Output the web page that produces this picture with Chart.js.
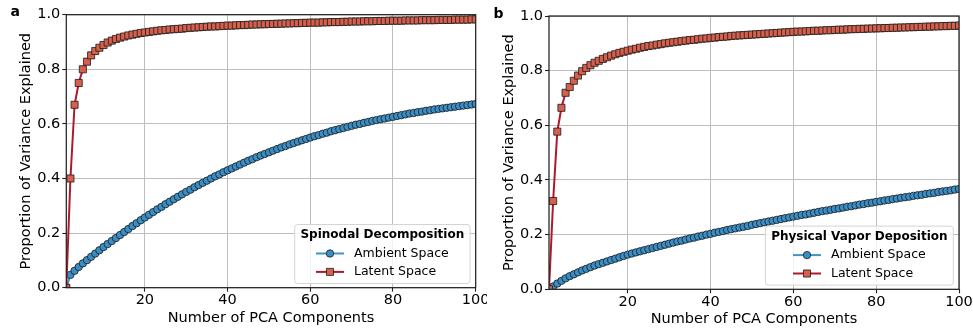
<!DOCTYPE html>
<html>
<head>
<meta charset="utf-8">
<script src="https://cdn.jsdelivr.net/npm/chart.js@4.4.1/dist/chart.umd.min.js"></script>
<style>
  html, body { margin: 0; padding: 0; background: #fff; }
  body { width: 973px; height: 332px; position: relative; overflow: hidden; }
  canvas { position: absolute; top: 0; }
  #panelA { left: 0; }
  #panelB { left: 487px; }
</style>
</head>
<body>
<canvas id="panelA" width="487" height="332"></canvas>
<canvas id="panelB" width="486" height="332"></canvas>
<script>
// number of PCA components kept (x values)
const components = Array.from({ length: 100 }, (_, i) => i + 1);

// panel a - spinodal decomposition
const spinodalAmbient = [
  0.000, 0.047, 0.062, 0.076, 0.089, 0.101, 0.113, 0.125, 0.137, 0.149,
  0.160, 0.171, 0.182, 0.193, 0.204, 0.215, 0.226, 0.236, 0.247, 0.257,
  0.267, 0.277, 0.287, 0.296, 0.306, 0.315, 0.324, 0.333, 0.342, 0.351,
  0.359, 0.368, 0.376, 0.384, 0.392, 0.400, 0.408, 0.415, 0.423, 0.430,
  0.437, 0.444, 0.451, 0.458, 0.465, 0.471, 0.478, 0.484, 0.490, 0.496,
  0.502, 0.508, 0.514, 0.519, 0.525, 0.530, 0.535, 0.540, 0.545, 0.550,
  0.555, 0.559, 0.564, 0.568, 0.573, 0.577, 0.581, 0.585, 0.589, 0.593,
  0.597, 0.600, 0.604, 0.607, 0.611, 0.614, 0.617, 0.620, 0.623, 0.626,
  0.629, 0.632, 0.635, 0.638, 0.640, 0.643, 0.645, 0.648, 0.650, 0.653,
  0.655, 0.657, 0.659, 0.661, 0.663, 0.665, 0.667, 0.669, 0.671, 0.673
];
const spinodalLatent = [
  0.000, 0.400, 0.670, 0.750, 0.800, 0.828, 0.851, 0.867, 0.879, 0.889,
  0.898, 0.905, 0.911, 0.916, 0.920, 0.924, 0.927, 0.930, 0.933, 0.935,
  0.937, 0.939, 0.941, 0.943, 0.944, 0.946, 0.947, 0.948, 0.949, 0.951,
  0.952, 0.953, 0.954, 0.955, 0.956, 0.957, 0.957, 0.958, 0.959, 0.960,
  0.960, 0.961, 0.962, 0.962, 0.963, 0.964, 0.964, 0.965, 0.965, 0.966,
  0.966, 0.967, 0.967, 0.968, 0.968, 0.969, 0.969, 0.970, 0.970, 0.971,
  0.971, 0.971, 0.972, 0.972, 0.973, 0.973, 0.973, 0.974, 0.974, 0.975,
  0.975, 0.975, 0.976, 0.976, 0.976, 0.977, 0.977, 0.977, 0.978, 0.978,
  0.978, 0.978, 0.979, 0.979, 0.979, 0.979, 0.980, 0.980, 0.980, 0.980,
  0.981, 0.981, 0.981, 0.981, 0.982, 0.982, 0.982, 0.982, 0.983, 0.983
];

// panel b - physical vapor deposition
const pvdAmbient = [
  0.000, 0.010, 0.021, 0.031, 0.040, 0.048, 0.055, 0.062, 0.069, 0.075,
  0.081, 0.087, 0.092, 0.097, 0.102, 0.107, 0.112, 0.117, 0.122, 0.127,
  0.131, 0.135, 0.139, 0.143, 0.147, 0.151, 0.155, 0.159, 0.163, 0.167,
  0.171, 0.175, 0.178, 0.182, 0.186, 0.189, 0.193, 0.196, 0.200, 0.203,
  0.207, 0.210, 0.213, 0.217, 0.220, 0.223, 0.226, 0.229, 0.232, 0.236,
  0.239, 0.242, 0.245, 0.248, 0.251, 0.254, 0.257, 0.260, 0.263, 0.266,
  0.269, 0.272, 0.274, 0.277, 0.280, 0.283, 0.286, 0.288, 0.291, 0.294,
  0.296, 0.299, 0.302, 0.304, 0.307, 0.310, 0.312, 0.315, 0.317, 0.320,
  0.322, 0.325, 0.327, 0.330, 0.332, 0.335, 0.337, 0.339, 0.342, 0.344,
  0.346, 0.349, 0.351, 0.353, 0.356, 0.358, 0.360, 0.362, 0.365, 0.367
];
const pvdLatent = [
  0.000, 0.323, 0.577, 0.664, 0.719, 0.740, 0.763, 0.782, 0.798, 0.810,
  0.820, 0.829, 0.836, 0.843, 0.849, 0.855, 0.860, 0.865, 0.869, 0.873,
  0.877, 0.880, 0.884, 0.887, 0.890, 0.892, 0.895, 0.897, 0.900, 0.902,
  0.904, 0.906, 0.908, 0.910, 0.912, 0.913, 0.915, 0.917, 0.918, 0.920,
  0.921, 0.923, 0.924, 0.925, 0.927, 0.928, 0.929, 0.930, 0.931, 0.932,
  0.933, 0.934, 0.935, 0.936, 0.937, 0.938, 0.939, 0.940, 0.941, 0.942,
  0.943, 0.943, 0.944, 0.945, 0.946, 0.946, 0.947, 0.948, 0.948, 0.949,
  0.950, 0.950, 0.951, 0.952, 0.952, 0.953, 0.953, 0.954, 0.954, 0.955,
  0.955, 0.956, 0.956, 0.957, 0.957, 0.958, 0.958, 0.959, 0.959, 0.960,
  0.960, 0.961, 0.961, 0.962, 0.962, 0.963, 0.963, 0.964, 0.964, 0.965
];

const xTicks = [20, 40, 60, 80, 100];
const yTicks = [0, 0.2, 0.4, 0.6, 0.8, 1.0];
const seriesNames = ['Ambient Space', 'Latent Space'];

const FONT = '"DejaVu Sans", sans-serif';
const AXIS_SIZE = 14.5;
const HALF_LINE = AXIS_SIZE * 1.2 / 2;
Chart.defaults.font.family = FONT;
Chart.defaults.color = '#000';

// matplotlib-like box around the axes
const framePlugin = {
  id: 'frame',
  afterDatasetsDraw(chart) {
    const { ctx, chartArea: a } = chart;
    ctx.save();
    ctx.strokeStyle = '#222';
    ctx.lineWidth = 1.25;
    ctx.strokeRect(a.left, a.top, a.right - a.left, a.bottom - a.top);
    ctx.restore();
  }
};

// legend with a bold title, sitting in the lower right corner
const panelLegend = {
  id: 'panelLegend',
  afterDraw(chart, args, opts) {
    const { ctx, chartArea: a } = chart;
    const sets = chart.data.datasets;
    ctx.save();
    ctx.font = `bold 12px ${FONT}`;
    const titleW = ctx.measureText(opts.title).width;
    ctx.font = `12.5px ${FONT}`;
    const labelW = Math.max(...sets.map(d => ctx.measureText(d.label).width));
    const rowW = 28 + 10 + labelW;
    const w = Math.max(titleW, rowW) + 11.5;
    const h = 59;
    const x = a.right - 5.7 - w;
    const y = a.bottom - 4.2 - h;

    ctx.beginPath();
    ctx.roundRect(x, y, w, h, 3);
    ctx.fillStyle = 'rgba(255,255,255,0.8)';
    ctx.fill();
    ctx.strokeStyle = '#d4d4d4';
    ctx.lineWidth = 1;
    ctx.stroke();

    const cx = x + w / 2;
    ctx.fillStyle = '#000';
    ctx.textBaseline = 'middle';
    ctx.textAlign = 'center';
    ctx.font = `bold 12px ${FONT}`;
    ctx.fillText(opts.title, cx, y + 10.7);

    const rx = cx - rowW / 2;
    sets.forEach((d, i) => {
      const ry = y + 29 + i * 18.4;
      ctx.strokeStyle = d.borderColor;
      ctx.lineWidth = d.borderWidth;
      ctx.beginPath();
      ctx.moveTo(rx, ry);
      ctx.lineTo(rx + 28, ry);
      ctx.stroke();
      ctx.fillStyle = d.pointBackgroundColor;
      ctx.strokeStyle = d.pointBorderColor;
      ctx.lineWidth = d.pointBorderWidth;
      Chart.helpers.drawPoint(ctx, {
        pointStyle: d.pointStyle, radius: d.pointRadius, borderWidth: d.pointBorderWidth, rotation: 0
      }, rx + 14, ry);
      ctx.fillStyle = '#000';
      ctx.textAlign = 'left';
      ctx.font = `12.5px ${FONT}`;
      ctx.fillText(d.label, rx + 38, ry);
    });
    ctx.restore();
  }
};

const panelLetter = {
  id: 'panelLetter',
  afterDraw(chart, args, opts) {
    const { ctx } = chart;
    ctx.save();
    ctx.font = `bold 14px ${FONT}`;
    ctx.fillStyle = '#000';
    ctx.textBaseline = 'alphabetic';
    ctx.fillText(opts.text, opts.x, opts.y);
    ctx.restore();
  }
};

function drawPanel(id, letter, legendTitle, ambient, latent, geo) {
  const gridStyle = { color: '#bdbdbd', lineWidth: 1, drawTicks: true, tickLength: 4, tickColor: '#222', tickWidth: 1.1 };
  return new Chart(document.getElementById(id), {
    type: 'line',
    data: {
      datasets: [
        {
          label: seriesNames[0],
          data: components.map((c, i) => ({ x: c, y: ambient[i] })),
          borderColor: '#4393c3',
          backgroundColor: '#4393c3',
          borderWidth: 2,
          pointStyle: 'circle',
          pointRadius: 3.7,
          pointBackgroundColor: '#3b8ec5',
          pointBorderColor: '#1a1a1a',
          pointBorderWidth: 0.8,
          order: 1,
          clip: 0
        },
        {
          label: seriesNames[1],
          data: components.map((c, i) => ({ x: c, y: latent[i] })),
          borderColor: '#b2182b',
          backgroundColor: '#d6604d',
          borderWidth: 2,
          pointStyle: 'rect',
          pointRadius: 5,
          pointBackgroundColor: '#d6604d',
          pointBorderColor: '#1a1a1a',
          pointBorderWidth: 0.8,
          order: 0,
          clip: 0
        }
      ]
    },
    options: {
      responsive: false,
      animation: false,
      devicePixelRatio: 1,
      layout: { padding: { left: 0, top: geo.top, right: geo.width - geo.right, bottom: 0 } },
      plugins: {
        legend: { display: false },
        tooltip: { enabled: false },
        panelLegend: { title: legendTitle },
        panelLetter: { text: letter, x: geo.letterX, y: geo.letterY }
      },
      scales: {
        x: {
          type: 'linear',
          min: 1,
          max: 100,
          afterBuildTicks: s => { s.ticks = xTicks.map(v => ({ value: v })); },
          afterFit: s => { s.height = 332 - geo.bottom; s.paddingLeft = 0; s.paddingRight = 0; },
          ticks: { font: { size: AXIS_SIZE }, color: '#000', padding: 0, maxRotation: 0, callback: v => v },
          grid: gridStyle,
          border: { display: false },
          title: {
            display: true, text: 'Number of PCA Components', color: '#000',
            font: { size: AXIS_SIZE }, padding: { top: 0, bottom: geo.xTitleOffset - HALF_LINE }
          }
        },
        y: {
          type: 'linear',
          min: 0,
          max: 1,
          afterBuildTicks: s => { s.ticks = yTicks.map(v => ({ value: v })); },
          afterFit: s => { s.width = geo.left; s.paddingTop = 0; s.paddingBottom = 0; },
          ticks: { font: { size: AXIS_SIZE }, color: '#000', padding: 2, callback: v => v.toFixed(1) },
          grid: gridStyle,
          border: { display: false },
          title: {
            display: true, text: 'Proportion of Variance Explained', color: '#000',
            font: { size: AXIS_SIZE }, padding: { top: geo.left - 39.7 - HALF_LINE, bottom: 0 }
          }
        }
      }
    },
    plugins: [framePlugin, panelLegend, panelLetter]
  });
}

drawPanel('panelA', 'a', 'Spinodal Decomposition', spinodalAmbient, spinodalLatent,
  { width: 487, left: 66.3, right: 475.7, top: 14.7, bottom: 287.7, xTitleOffset: 14, letterX: 10.5, letterY: 16 });
drawPanel('panelB', 'b', 'Physical Vapor Deposition', pvdAmbient, pvdLatent,
  { width: 486, left: 62, right: 472, top: 16, bottom: 289.3, xTitleOffset: 12.4, letterX: 6.5, letterY: 18.3 });
</script>
</body>
</html>
